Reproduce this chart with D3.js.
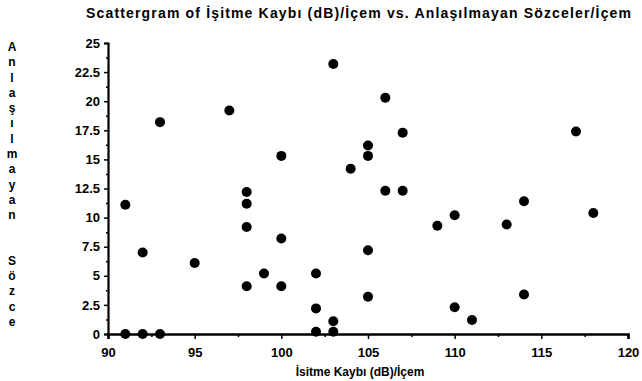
<!DOCTYPE html>
<html><head><meta charset="utf-8">
<script src="https://cdn.jsdelivr.net/npm/d3@7"></script>
<style>
body{margin:0;background:#fff;}
text{font-family:"Liberation Sans",Arial,Helvetica,sans-serif;font-weight:bold;fill:#000;}
</style></head>
<body><svg id="c" width="642" height="381"></svg>
<script>
const titleText = "Scattergram of İşitme Kaybı (dB)/İçem vs. Anlaşılmayan Sözceler/İçem";
const xTitle = "İsitme Kaybı (dB)/İçem";
const yTitleLetters = ["A","n","l","a","ş","ı","l","m","a","y","a","n","","","S","ö","z","c","e"];
const xTicks = [90,95,100,105,110,115,120];
const yTicks = [0,2.5,5,7.5,10,12.5,15,17.5,20,22.5,25];
const yTickLabels = ["0","2.5","5","7.5","10","12.5","15","17.5","20","22.5","25"];
const hearingLoss = [91,91,92,92,93,93,95,97,98,98,98,98,99,100,100,100,102,102,102,103,103,103,104,105,105,105,105,106,106,107,107,109,110,110,111,113,114,114,117,118];
const unintelligible = [11.1,0,7.0,0,18.2,0,6.1,19.2,12.2,11.2,9.2,4.1,5.2,15.3,8.2,4.1,5.2,2.2,0.2,23.2,1.1,0.2,14.2,16.2,15.3,7.2,3.2,20.3,12.3,17.3,12.3,9.3,10.2,2.3,1.2,9.4,11.4,3.4,17.4,10.4];

const svg = d3.select("#c");
const x = d3.scaleLinear().domain([90,120]).range([108,628]);
const y = d3.scaleLinear().domain([0,25]).range([334,43]);

// title
svg.append("text").attr("x",86).attr("y",18).attr("font-size",14)
  .attr("textLength",545).attr("lengthAdjust","spacing").text(titleText);

// y axis
const yAxis = d3.axisLeft(y).tickValues(yTicks).tickFormat((d,i)=>yTickLabels[i]).tickSize(4).tickPadding(4);
const gy = svg.append("g").attr("transform","translate(108,0)").call(yAxis);
gy.select(".domain").attr("stroke-width",2.2);
gy.selectAll(".tick line").attr("stroke-width",1.5);
gy.selectAll("text").attr("font-size",13).attr("font-family","Liberation Sans, Arial").attr("font-weight","bold");
const yMinor = d3.axisLeft(y).tickValues(d3.range(1.25,25,2.5)).tickFormat("").tickSize(2);
const gym = svg.append("g").attr("transform","translate(108,0)").call(yMinor);
gym.select(".domain").remove();
gym.selectAll(".tick line").attr("stroke-width",1.5);

// x axis
const xAxis = d3.axisBottom(x).tickValues(xTicks).tickSize(5).tickPadding(9);
const gx = svg.append("g").attr("transform","translate(0,334)").call(xAxis);
gx.select(".domain").attr("stroke-width",2.6);
gx.selectAll(".tick line").attr("stroke-width",1.5);
gx.selectAll("text").attr("font-size",13).attr("font-family","Liberation Sans, Arial").attr("font-weight","bold");
const xMinor = d3.axisBottom(x).tickValues(d3.range(92.5,120,5)).tickFormat("").tickSize(3);
const gxm = svg.append("g").attr("transform","translate(0,334)").call(xMinor);
gxm.select(".domain").remove();
gxm.selectAll(".tick line").attr("stroke-width",1.5);

// x title
svg.append("text").attr("x",360).attr("y",376).attr("text-anchor","middle").attr("font-size",12).text(xTitle);

// y title (stacked letters)
const ly = d3.scaleLinear().domain([0,yTitleLetters.length-1]).range([51,326]);
svg.append("g").selectAll("text").data(yTitleLetters).join("text")
  .attr("x",12).attr("y",(d,i)=>ly(i)).attr("text-anchor","middle").attr("font-size",12).text(d=>d);

// points
svg.append("g").selectAll("circle").data(hearingLoss).join("circle")
  .attr("cx",(d,i)=>x(d)).attr("cy",(d,i)=>y(unintelligible[i])).attr("r",5).attr("fill","#000");
</script></body></html>
